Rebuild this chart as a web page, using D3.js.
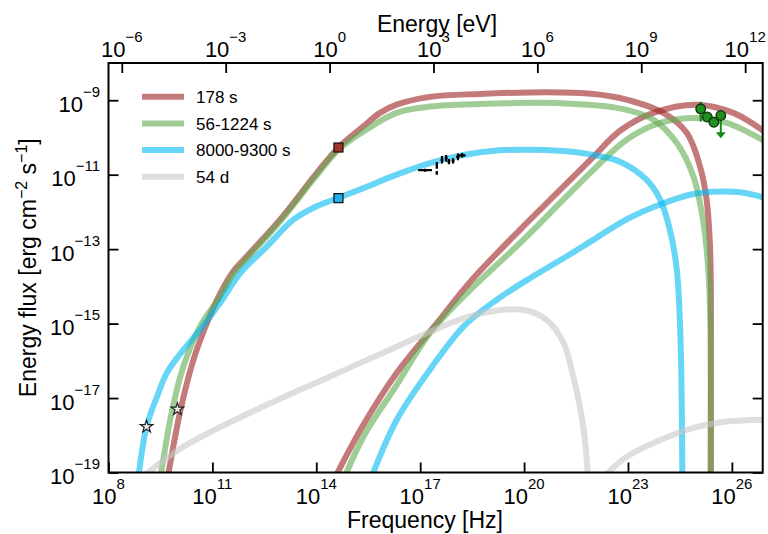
<!DOCTYPE html>
<html>
<head>
<meta charset="utf-8">
<script src="https://cdn.jsdelivr.net/npm/d3@7"></script>
<style>
  body { margin: 0; background: #fff; }
  text { font-family: "Liberation Sans", Arial, sans-serif; fill: #000; }
</style>
</head>
<body>
<svg id="chart"></svg>
<script>
// all values are log10: [log10 nu (Hz), log10 nuFnu (erg cm^-2 s^-1)]
const syn178 = [[9.68,-19.3],[10.08,-17.32],[10.45,-15.98],[10.84,-14.99],[11.22,-14.2],[11.60,-13.6],[12.09,-13.1],[13.05,-12.1],[14.01,-10.96],[14.64,-10.27],[15.36,-9.70],[15.84,-9.34],[16.32,-9.12],[17.28,-8.91],[18.73,-8.83],[20.17,-8.79],[21.04,-8.79],[22.0,-8.83],[22.77,-8.94],[24.02,-9.34],[24.70,-9.88],[25.08,-10.78],[25.27,-11.67],[25.36,-12.75],[25.39,-13.74],[25.395,-16],[25.395,-19.3]];
const ic178 = [[14.45,-19.3],[15.36,-17.72],[16.32,-16.33],[17.48,-14.99],[18.44,-13.88],[19.88,-12.48],[21.04,-11.41],[22.0,-10.52],[22.77,-9.82],[23.73,-9.34],[24.99,-9.12],[26.04,-9.34],[26.95,-9.85]];

const syn1224 = [[9.47,-19.3],[9.84,-17.32],[10.16,-16.16],[10.64,-15.08],[11.22,-14.28],[11.60,-13.68],[12.09,-13.16],[13.05,-12.15],[14.01,-11.02],[14.64,-10.33],[15.36,-9.84],[16.32,-9.34],[17.28,-9.17],[18.73,-9.10],[21.04,-9.08],[22.77,-9.22],[23.73,-9.52],[24.41,-10.15],[24.89,-11.05],[25.18,-12.30],[25.32,-13.56],[25.38,-15],[25.38,-19.3]];
const ic1224 = [[14.74,-19.3],[15.36,-18.04],[16.32,-16.65],[17.28,-15.26],[18.44,-14.1],[19.88,-12.84],[21.04,-11.76],[22.0,-10.87],[22.96,-10.06],[23.93,-9.61],[24.99,-9.48],[25.85,-9.61],[26.95,-10.1]];

const syn8000 = [[8.84,-19.3],[9.10,-17.77],[9.44,-16.87],[9.68,-16.33],[10.16,-15.71],[10.64,-15.17],[11.22,-14.45],[11.80,-13.65],[12.57,-12.93],[13.34,-12.21],[14.01,-11.85],[14.64,-11.62],[15.36,-11.36],[16.32,-11.00],[17.28,-10.69],[18.25,-10.47],[19.21,-10.35],[20.17,-10.33],[21.04,-10.36],[22.0,-10.47],[22.77,-10.65],[23.54,-11.14],[23.93,-11.67],[24.21,-12.48],[24.41,-13.56],[24.52,-15.53],[24.57,-19.3]];
const ic8000 = [[15.52,-19.3],[16.32,-17.59],[17.28,-16.24],[18.25,-15.08],[19.21,-14.36],[20.17,-13.78],[21.04,-13.3],[22.0,-12.75],[22.96,-12.2],[23.93,-11.8],[24.89,-11.52],[25.66,-11.45],[26.3,-11.48],[26.95,-11.62]];

const syn54d = [[8.75,-19.3],[10.16,-18.31],[12.3,-17.3],[14.4,-16.42],[16.32,-15.62],[17.28,-15.22],[18.25,-14.86],[19.21,-14.65],[19.98,-14.63],[20.65,-14.90],[21.13,-15.5],[21.42,-16.42],[21.71,-17.77],[21.86,-19.3]];
const ic54d = [[22.1,-19.3],[22.96,-18.58],[23.93,-18.13],[24.89,-17.8],[25.85,-17.63],[26.95,-17.58]];

// radio stars, optical squares
const radioNu = [9.10, 9.99];
const radioF = [-17.77, -17.30];
const optNu = 14.64;
const optF = [-10.27, -11.63];

// X-ray points with error bars (log units)
const xrayNu = [17.14, 17.48, 17.48, 17.63, 17.75, 17.83, 17.95, 18.09, 18.21];
const xrayF = [-10.88, -10.75, -10.95, -10.60, -10.56, -10.65, -10.63, -10.52, -10.48];
const xrayErrNu = [0.2, 0.03, 0.03, 0.04, 0.04, 0.04, 0.04, 0.05, 0.1];
const xrayErrF = [0.04, 0.09, 0.05, 0.1, 0.09, 0.07, 0.07, 0.09, 0.06];

// GeV points, the last one is an upper limit
const latNu = [25.10, 25.29, 25.48, 25.68];
const latF = [-9.23, -9.45, -9.59, -9.41];
const latHi = [-9.04, null, null, null];
const latLo = [-9.57, null, null, -10.02];

const labels = ['178 s', '56-1224 s', '8000-9300 s', '54 d'];
const colors = ['rgb(157,33,33)', 'rgb(97,172,80)', 'rgb(0,185,240)', 'rgb(200,200,200)'];
const curves = [[syn178, ic178], [syn1224, ic1224], [syn8000, ic8000], [syn54d, ic54d]];

const xTicks = [8, 11, 14, 17, 20, 23, 26];
const eTicks = [-6, -3, 0, 3, 6, 9, 12];
const yTicks = [-19, -17, -15, -13, -11, -9];
const HZ_PER_EV = 2.418e14;

class SedChart {
  constructor(_config) {
    this.config = {
      parentElement: _config.parentElement,
      containerWidth: _config.containerWidth || 768,
      containerHeight: _config.containerHeight || 534,
      plot: _config.plot || {left: 108.5, right: 762.7, top: 63, bottom: 472.5}
    };
    this.initVis();
  }

  initVis() {
    let vis = this;
    const p = vis.config.plot;
    vis.svg = d3.select(vis.config.parentElement)
        .attr('width', vis.config.containerWidth)
        .attr('height', vis.config.containerHeight);

    vis.x = d3.scaleLog().domain([1e8, Math.pow(10, 26.89)]).range([p.left, p.right]);
    vis.y = d3.scaleLog().domain([1e-19, 1e-8]).range([p.bottom, p.top]);
    vis.px = v => vis.x(Math.pow(10, v));
    vis.py = v => vis.y(Math.pow(10, v));

    vis.svg.append('clipPath').attr('id', 'clip')
      .append('rect')
        .attr('x', p.left).attr('y', p.top)
        .attr('width', p.right - p.left).attr('height', p.bottom - p.top);

    vis.chartArea = vis.svg.append('g').attr('clip-path', 'url(#clip)');
    vis.renderVis();
  }

  renderVis() {
    let vis = this;
    const p = vis.config.plot;

    const line = d3.line()
        .x(d => vis.px(d[0]))
        .y(d => vis.py(d[1]))
        .curve(d3.curveCatmullRom.alpha(0.5));

    curves.forEach((parts, i) => {
      vis.chartArea.selectAll('.c' + i)
        .data(parts)
        .join('path')
          .attr('class', 'c' + i)
          .attr('d', line)
          .attr('fill', 'none')
          .attr('stroke', colors[i])
          .attr('stroke-opacity', 0.6)
          .attr('stroke-width', 6)
          .attr('stroke-linejoin', 'round');
    });

    // radio stars
    vis.chartArea.selectAll('.star')
      .data(radioNu)
      .join('path')
        .attr('class', 'star')
        .attr('d', d3.symbol(d3.symbolStar, 48))
        .attr('transform', (d, i) => `translate(${vis.px(d)},${vis.py(radioF[i])})`)
        .attr('fill', '#ececec')
        .attr('stroke', '#222')
        .attr('stroke-width', 1.2);

    // optical squares
    vis.chartArea.selectAll('.opt')
      .data(optF)
      .join('rect')
        .attr('class', 'opt')
        .attr('x', vis.px(optNu) - 4.5)
        .attr('y', d => vis.py(d) - 4.5)
        .attr('width', 9).attr('height', 9)
        .attr('fill', (d, i) => i === 0 ? '#a3342a' : '#22aee8')
        .attr('stroke', '#111')
        .attr('stroke-width', 1.2);

    // X-ray error bars
    const xr = vis.chartArea.append('g').attr('stroke', '#000').attr('stroke-width', 2.2);
    xrayNu.forEach((v, i) => {
      xr.append('line')
        .attr('x1', vis.px(v - xrayErrNu[i])).attr('x2', vis.px(v + xrayErrNu[i]))
        .attr('y1', vis.py(xrayF[i])).attr('y2', vis.py(xrayF[i]));
      xr.append('line')
        .attr('x1', vis.px(v)).attr('x2', vis.px(v))
        .attr('y1', vis.py(xrayF[i] - xrayErrF[i])).attr('y2', vis.py(xrayF[i] + xrayErrF[i]));
    });

    // GeV points
    const lat = vis.chartArea.append('g');
    latNu.forEach((v, i) => {
      if (latHi[i] !== null) {
        lat.append('line')
          .attr('x1', vis.px(v)).attr('x2', vis.px(v))
          .attr('y1', vis.py(latHi[i])).attr('y2', vis.py(latLo[i]))
          .attr('stroke', '#138a13').attr('stroke-width', 2.2);
      } else if (latLo[i] !== null) {
        const x0 = vis.px(v), y1 = vis.py(latLo[i]);
        lat.append('line')
          .attr('x1', x0).attr('x2', x0)
          .attr('y1', vis.py(latF[i])).attr('y2', y1 - 4)
          .attr('stroke', '#138a13').attr('stroke-width', 2);
        lat.append('path')
          .attr('d', `M${x0 - 5},${y1 - 6}L${x0 + 5},${y1 - 6}L${x0},${y1}Z`)
          .attr('fill', '#138a13');
      }
    });
    lat.selectAll('circle')
      .data(latNu)
      .join('circle')
        .attr('cx', d => vis.px(d))
        .attr('cy', (d, i) => vis.py(latF[i]))
        .attr('r', 4.8)
        .attr('fill', '#1f8f1f')
        .attr('stroke', '#0b2e0b')
        .attr('stroke-width', 1.3);

    // axes: inward ticks on all four sides
    const tickStyle = g => {
      g.select('.domain').remove();
      g.selectAll('.tick line').attr('stroke-width', 1.8);
      g.selectAll('.tick text').remove();
    };
    const xv = xTicks.map(d => Math.pow(10, d));
    const yv = yTicks.map(d => Math.pow(10, d));
    const ev = eTicks.map(d => Math.pow(10, d) * HZ_PER_EV);

    vis.svg.append('g').attr('transform', `translate(0,${p.bottom})`)
      .call(d3.axisBottom(vis.x).tickValues(xv).tickSize(-10)).call(tickStyle);
    vis.svg.append('g').attr('transform', `translate(0,${p.top})`)
      .call(d3.axisTop(vis.x).tickValues(ev).tickSize(-10)).call(tickStyle);
    vis.svg.append('g').attr('transform', `translate(${p.left},0)`)
      .call(d3.axisLeft(vis.y).tickValues(yv).tickSize(-10)).call(tickStyle);
    vis.svg.append('g').attr('transform', `translate(${p.right},0)`)
      .call(d3.axisRight(vis.y).tickValues(yv).tickSize(-10)).call(tickStyle);

    vis.svg.append('rect')
      .attr('x', p.left).attr('y', p.top)
      .attr('width', p.right - p.left).attr('height', p.bottom - p.top)
      .attr('fill', 'none').attr('stroke', '#000').attr('stroke-width', 2);

    // "10^n" tick labels
    const power = (sel, exp) => {
      sel.append('tspan').text('10');
      sel.append('tspan').attr('dy', -15).attr('font-size', 15)
        .text(String(exp).replace('-', '\u2212'));
    };
    xTicks.forEach((d, i) => {
      vis.svg.append('text')
        .attr('x', vis.x(xv[i])).attr('y', p.bottom + 31)
        .attr('text-anchor', 'middle').attr('font-size', 22)
        .call(power, d);
    });
    eTicks.forEach((d, i) => {
      vis.svg.append('text')
        .attr('x', vis.x(ev[i])).attr('y', p.top - 6)
        .attr('text-anchor', 'middle').attr('font-size', 22)
        .call(power, d);
    });
    yTicks.forEach((d, i) => {
      vis.svg.append('text')
        .attr('x', 100).attr('y', vis.y(yv[i]) + 11.5)
        .attr('text-anchor', 'end').attr('font-size', 22)
        .call(power, d);
    });

    // axis titles
    vis.svg.append('text')
      .attr('x', 425).attr('y', 528)
      .attr('text-anchor', 'middle').attr('font-size', 23)
      .text('Frequency [Hz]');
    vis.svg.append('text')
      .attr('x', 437).attr('y', 32)
      .attr('text-anchor', 'middle').attr('font-size', 23)
      .text('Energy [eV]');
    const yt = vis.svg.append('text')
      .attr('transform', `translate(36,${(p.top + p.bottom) / 2}) rotate(-90)`)
      .attr('text-anchor', 'middle').attr('font-size', 23);
    yt.append('tspan').text('Energy flux [erg cm');
    yt.append('tspan').attr('dy', -9).attr('font-size', 16).text('\u22122');
    yt.append('tspan').attr('dy', 9).text(' s');
    yt.append('tspan').attr('dy', -9).attr('font-size', 16).text('\u22121');
    yt.append('tspan').attr('dy', 9).text(']');

    // legend
    const leg = vis.svg.append('g').selectAll('g')
      .data(labels)
      .join('g')
        .attr('transform', (d, i) => `translate(142,${96.7 + i * 26.7})`);
    leg.append('line')
      .attr('x1', 0).attr('x2', 42)
      .attr('stroke', (d, i) => colors[i])
      .attr('stroke-opacity', 0.6)
      .attr('stroke-width', 6);
    leg.append('text')
      .attr('x', 54).attr('dy', '0.36em')
      .attr('font-size', 17)
      .text(d => d);
  }
}

new SedChart({parentElement: '#chart'});
</script>
</body>
</html>
